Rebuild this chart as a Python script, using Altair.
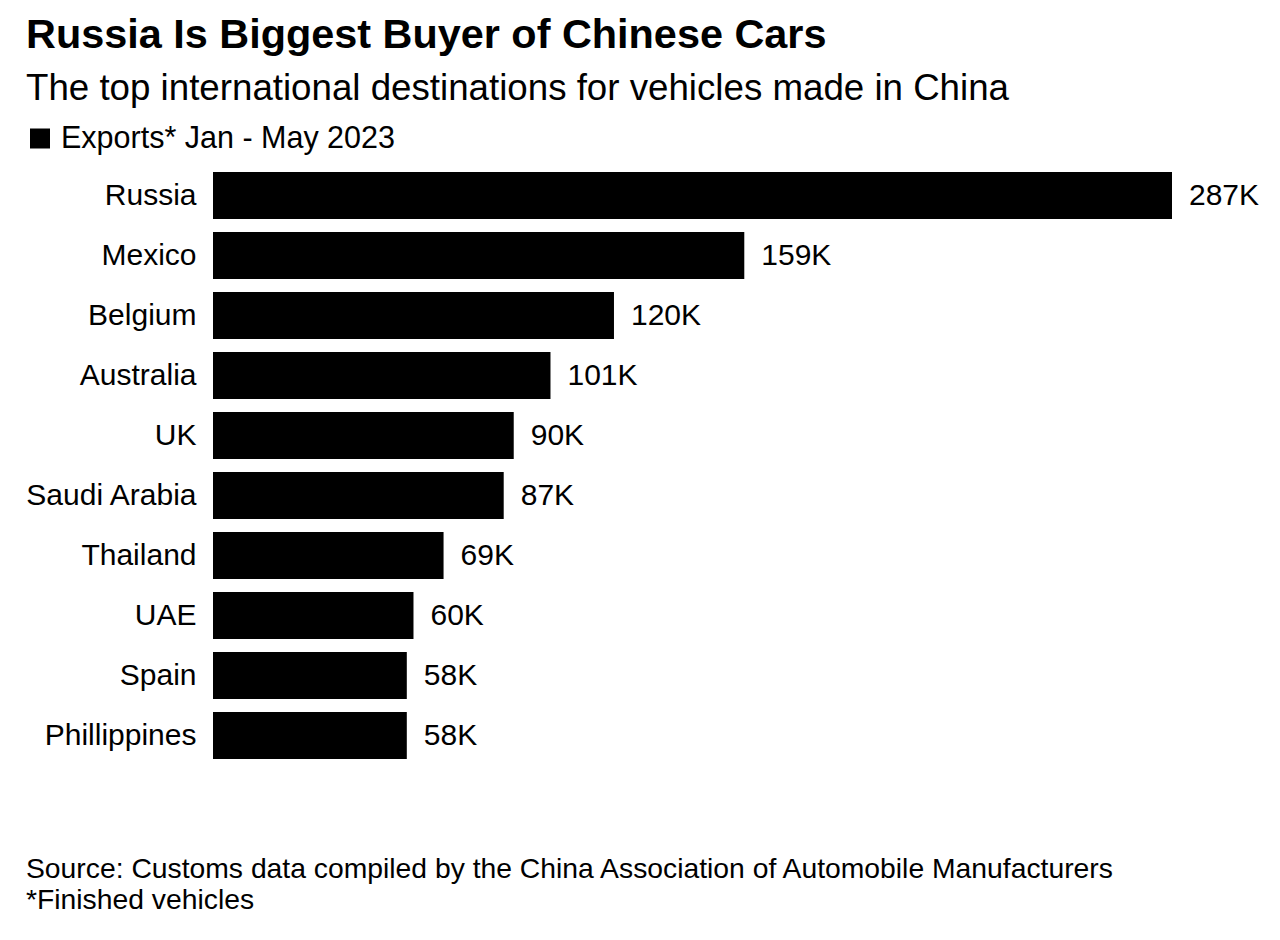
import altair as alt
import pandas as pd

countries = ["Russia", "Mexico", "Belgium", "Australia", "UK", "Saudi Arabia",
             "Thailand", "UAE", "Spain", "Phillippines"]
exports_k = [287, 159, 120, 101, 90, 87, 69, 60, 58, 58]

title_text = "Russia Is Biggest Buyer of Chinese Cars"
subtitle_text = "The top international destinations for vehicles made in China"
legend_text = "Exports* Jan - May 2023"
source_lines = ["Source: Customs data compiled by the China Association of Automobile Manufacturers",
                "*Finished vehicles"]

FONT = "Liberation Sans"

df = pd.DataFrame({"country": countries, "value": exports_k,
                   "label": [f"{v}K" for v in exports_k]})

PAD_L, PAD_T = 213, 165.5
W, H = 959, 600

x = alt.X("value:Q", scale=alt.Scale(domain=[0, 287], nice=False, zero=True), axis=None)
y = alt.Y("country:N", sort=countries,
          scale=alt.Scale(paddingInner=13/60, paddingOuter=6.5/60),
          axis=alt.Axis(title=None, domain=False, ticks=False, labelPadding=17,
                        labelFontSize=30, labelFont=FONT, labelColor="#000000",
                        grid=False))

bars = alt.Chart(df).mark_bar(color="#000000").encode(x=x, y=y)
labels = alt.Chart(df).mark_text(align="left", baseline="middle", dx=17, fontSize=30,
                                 font=FONT, color="#000000").encode(x=x, y=y, text="label:N")

def txt(s, xpos, ypos, size, weight="normal"):
    return alt.Chart(pd.DataFrame({"t": [s]})).mark_text(
        align="left", baseline="alphabetic", fontSize=size, font=FONT,
        fontWeight=weight, color="#000000").encode(
        x=alt.value(xpos - PAD_L), y=alt.value(ypos - PAD_T), text="t:N")

title = txt(title_text, 26, 48, 41.4, "bold")
subtitle = txt(subtitle_text, 26, 100, 36.7)
legend = txt(legend_text, 61, 148, 30.5)
src1 = txt(source_lines[0], 26, 878, 28.3)
src2 = txt(source_lines[1], 26, 909, 28.3)
square = alt.Chart(pd.DataFrame({"k": [0]})).mark_square(
    size=400, color="#000000", opacity=1, filled=True).encode(
    x=alt.value(40 - PAD_L), y=alt.value(138.5 - PAD_T))

chart = alt.layer(bars, labels, title, subtitle, legend, square, src1, src2).properties(
    width=W, height=H,
    autosize=alt.AutoSizeParams(type="none"),
    padding={"left": PAD_L, "top": PAD_T, "right": 1280 - PAD_L - W,
             "bottom": 940 - PAD_T - H},
    background="#ffffff",
).configure_view(stroke=None)

chart.save("out.html", embed_options={"renderer": "svg", "actions": False})
